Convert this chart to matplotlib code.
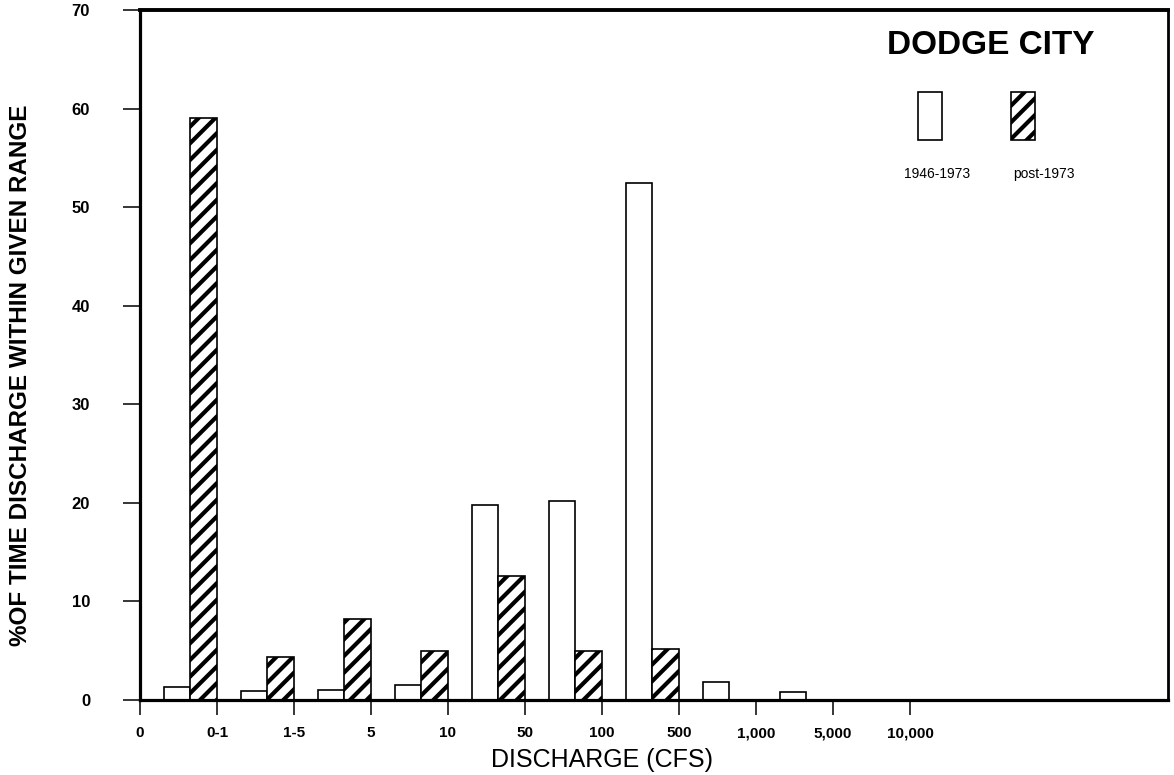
import matplotlib
matplotlib.use("Agg")
import matplotlib.pyplot as plt
from matplotlib.patches import Rectangle
from matplotlib.transforms import ScaledTranslation
import numpy as np

# ---- data ----
tick_labels = ["0", "0-1", "1-5", "5", "10", "50", "100", "500", "1,000", "5,000", "10,000"]
period1_label = "1946-1973"
period2_label = "post-1973"
period1_values = [1.35, 0.9, 1.0, 1.55, 19.8, 20.2, 52.5, 1.8, 0.85]
period2_values = [59.0, 4.4, 8.25, 4.95, 12.6, 4.95, 5.2, 0.0, 0.0]
y_ticks = [0, 10, 20, 30, 40, 50, 60, 70]

plt.rcParams["font.family"] = ["Liberation Sans", "DejaVu Sans"]
plt.rcParams["hatch.linewidth"] = 3.0
plt.rcParams["hatch.color"] = "black"

W, H = 1174, 775
fig = plt.figure(figsize=(W / 100, H / 100), dpi=100)
ax = fig.add_axes([140 / W, 75 / H, (1168 - 140) / W, (700 - 10) / H])

n = len(period1_values)
idx = np.arange(n)
bw = 0.345
ax.bar(idx + 0.31, period1_values, width=bw, align="edge", facecolor="white",
       edgecolor="black", linewidth=1.2, zorder=2)
ax.bar(idx + 0.655, period2_values, width=bw, align="edge", facecolor="white",
       edgecolor="black", linewidth=1.2, hatch="//", zorder=2)

ax.set_xlim(0, (1168 - 140) / 77)
ax.set_ylim(0, 70)

ax.set_xticks(np.arange(len(tick_labels)))
ax.set_xticklabels(tick_labels, fontsize=11, fontweight="bold")
for i, lab in enumerate(ax.get_xticklabels()):
    lab.set_transform(lab.get_transform() + ScaledTranslation(2.0 * i / 100, 0, fig.dpi_scale_trans))

ax.set_yticks(y_ticks)
ax.set_yticklabels([str(v) for v in y_ticks], fontsize=12, fontweight="bold")

ax.tick_params(axis="x", direction="out", length=11, width=1.1, pad=8)
ax.tick_params(axis="y", direction="out", length=12, width=1.1, pad=24)

for s in ["left", "bottom"]:
    ax.spines[s].set_linewidth(2.3)
ax.spines["top"].set_linewidth(2.8)
ax.spines["right"].set_linewidth(2.0)

fig.text(21 / W, 1 - 375 / H, "%OF TIME DISCHARGE WITHIN GIVEN RANGE", rotation=90,
         ha="center", va="center", fontsize=17.5, fontweight="bold")
fig.text(602 / W, 1 - 760 / H, "DISCHARGE (CFS)", ha="center", va="center", fontsize=18)

fig.text(991 / W, 1 - 46 / H, "DODGE CITY", ha="center", va="center", fontsize=24,
         fontweight="bold")

# legend boxes
r1 = Rectangle((918 / W, 1 - 140 / H), 24 / W, 48 / H, transform=fig.transFigure,
               facecolor="white", edgecolor="black", linewidth=1.2)
r2 = Rectangle((1011 / W, 1 - 140 / H), 24 / W, 48 / H, transform=fig.transFigure,
               facecolor="white", edgecolor="black", linewidth=1.2, hatch="//")
fig.add_artist(r1)
fig.add_artist(r2)
fig.text(937 / W, 1 - 174 / H, period1_label, ha="center", va="center", fontsize=10)
fig.text(1044 / W, 1 - 174 / H, period2_label, ha="center", va="center", fontsize=10)

fig.savefig("out.png", dpi=100)
